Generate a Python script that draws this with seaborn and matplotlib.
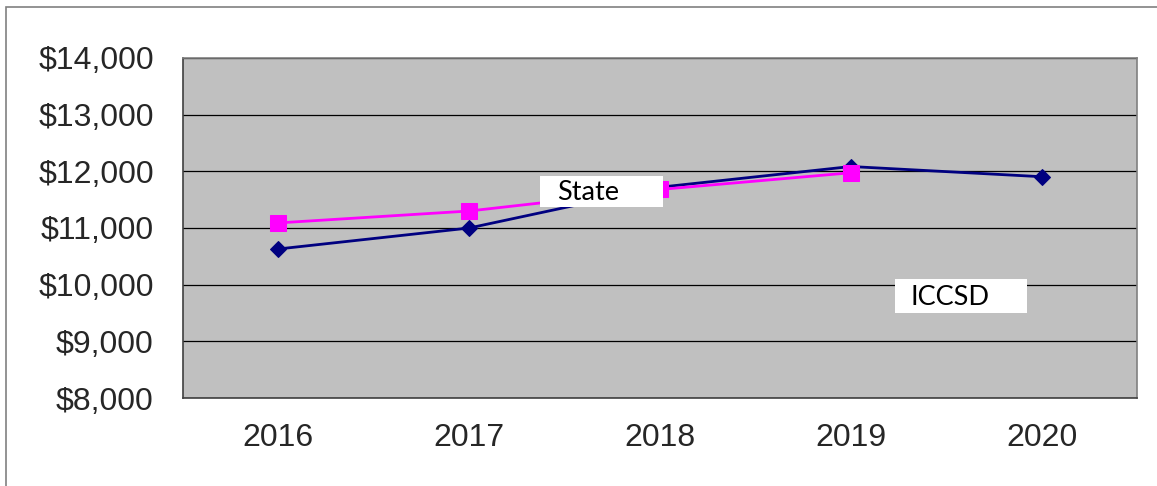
import numpy as np
import pandas as pd
import matplotlib
matplotlib.use("Agg")
import matplotlib.pyplot as plt
import seaborn as sns
from matplotlib.patches import Rectangle

years = ["2016", "2017", "2018", "2019", "2020"]
iccsd = [10630, 11000, 11720, 12085, 11905]
state = [11090, 11300, 11680, 11975]

sns.set_style("white")
plt.rcParams["font.family"] = ["Liberation Sans", "DejaVu Sans"]

fig = plt.figure(figsize=(11.57, 4.86), dpi=100)
ax = fig.add_axes([183 / 1157, 1 - 398 / 486, (1137 - 183) / 1157, (398 - 58) / 486])
ax.set_facecolor("#C0C0C0")

# outer chart frame
fig.patches.append(Rectangle((6 / 1157, -0.1), 1.2, 1 - 7 / 486 + 0.1,
                             transform=fig.transFigure, fill=False,
                             edgecolor="#808080", linewidth=1.2))

pos = np.arange(len(years))
df_i = pd.DataFrame({"x": pos, "y": iccsd})
df_s = pd.DataFrame({"x": pos[:len(state)], "y": state})

sns.lineplot(data=df_i, x="x", y="y", ax=ax, color="#000080", linewidth=2.0,
             marker="D", markersize=8.5, markeredgecolor="#000080", zorder=3)
sns.lineplot(data=df_s, x="x", y="y", ax=ax, color="#FF00FF", linewidth=2.0,
             marker="s", markersize=11, markeredgecolor="#FF00FF", zorder=3)

ax.set_xlim(-0.5, len(years) - 0.5)
ax.set_ylim(8000, 14000)
ax.set_yticks(range(8000, 14001, 1000))
ax.set_yticklabels([f"${v:,}" for v in range(8000, 14001, 1000)], fontsize=23)
ax.yaxis.grid(True, color="black", linewidth=0.9)
ax.set_axisbelow(True)

ax.set_xticks(np.arange(-0.5, len(years), 1.0))
ax.set_xticklabels([])
ax.set_xticks(pos, minor=True)
ax.set_xticklabels(years, minor=True, fontsize=23)
ax.tick_params(axis="x", which="major", length=7, width=1, color="#404040", direction="out")
ax.tick_params(axis="x", which="minor", length=0, pad=18)
ax.tick_params(axis="y", length=7, width=1, color="#404040", direction="out", pad=14)
ax.set_xlabel("")
ax.set_ylabel("")

for side in ["top", "right"]:
    ax.spines[side].set_color("#808080")
    ax.spines[side].set_linewidth(1.2)
for side in ["left", "bottom"]:
    ax.spines[side].set_color("#404040")
    ax.spines[side].set_linewidth(1.2)

# series labels: white boxes with text
for (bx, by, bw, bh, tx, ty, txt) in [
    (1.371, 11371, 0.645, 547, 1.46, 11620, "State"),
    (3.232, 9500, 0.692, 600, 3.315, 9770, "ICCSD"),
]:
    ax.add_patch(Rectangle((bx, by), bw, bh, facecolor="white", edgecolor="none", zorder=5))
    ax.text(tx, ty, txt, fontsize=19.5, family=["Lato", "DejaVu Sans"], color="black",
            va="center", ha="left", zorder=6)

fig.savefig("out.png", dpi=100)
